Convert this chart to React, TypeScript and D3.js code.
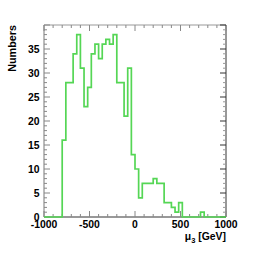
import React from 'react';
import * as d3 from 'd3';

// histogram of mu_3, 50 bins of 40 GeV from -1000 to 1000
const binEdges = d3.range(-1000, 1000, 40);
const counts = [0, 0, 0, 0, 0, 16, 28, 28, 34, 38, 31, 23, 27, 34, 36, 33, 36, 37, 36, 38, 28, 28, 21, 31, 13, 10, 4, 7, 7, 7, 8, 7, 7, 3, 3, 2, 1, 3, 0, 0, 0, 0, 0, 1, 0, 0, 0, 0, 0, 0];
const xMajor = [-1000, -500, 0, 500, 1000];
const xMinor = d3.range(-1000, 1001, 100);
const yMajor = [0, 5, 10, 15, 20, 25, 30, 35];
const yMinor = d3.range(0, 41, 1);

const W = 270;
const H = 259;
const left = 44, right = 226, top = 25, bottom = 217;

export default function App() {
  const x = d3.scaleLinear().domain([-1000, 1000]).range([left, right]);
  const y = d3.scaleLinear().domain([0, 40]).range([bottom, top]);

  const pts: [number, number][] = binEdges.map((e, i) => [e, counts[i]]);
  pts.push([1000, counts[counts.length - 1]]);
  const line = d3.line<[number, number]>()
    .x(d => x(d[0]))
    .y(d => y(d[1]))
    .curve(d3.curveStepAfter);

  const font = "'Liberation Sans', Arial, Helvetica, sans-serif";

  return (
    <svg width={W} height={H} style={{ position: 'absolute', left: 0, top: 0, background: '#fff' }}>
      {/* frame */}
      <line x1={left} x2={right} y1={top} y2={top} stroke="#999" strokeWidth={1} />
      <line x1={right} x2={right} y1={top} y2={bottom} stroke="#333" strokeWidth={1} />
      <line x1={left} x2={left} y1={top} y2={bottom} stroke="#777" strokeWidth={1} />
      <line x1={left} x2={right} y1={bottom} y2={bottom} stroke="#333" strokeWidth={1} />

      {/* x ticks */}
      {xMinor.map(v => {
        const major = xMajor.includes(v);
        const len = major ? 6 : 3;
        return (
          <g key={'x' + v}>
            <line x1={x(v)} x2={x(v)} y1={bottom} y2={bottom - len} stroke="#888" />
            <line x1={x(v)} x2={x(v)} y1={top} y2={top + len} stroke="#888" />
          </g>
        );
      })}
      {/* y ticks */}
      {yMinor.map(v => {
        const major = v % 5 === 0;
        const len = major ? 6 : 3;
        return (
          <g key={'y' + v}>
            <line x1={left} x2={left + len} y1={y(v)} y2={y(v)} stroke="#888" />
            <line x1={right} x2={right - len} y1={y(v)} y2={y(v)} stroke={major ? '#333' : '#999'} />
          </g>
        );
      })}

      {/* histogram */}
      <path d={line(pts) || ''} fill="none" stroke="#55d655" strokeWidth={1.7} />

      {/* labels */}
      {xMajor.map(v => (
        <text key={'xl' + v} x={x(v)} y={bottom + 10.5} textAnchor="middle"
          fontFamily={font} fontWeight="bold" fontSize={10.4} fill="#000">{v}</text>
      ))}
      {yMajor.map(v => (
        <text key={'yl' + v} x={39.5} y={y(v) + 3.7} textAnchor="end"
          fontFamily={font} fontWeight="bold" fontSize={10.4} fill="#000">{v}</text>
      ))}
      <text transform={`translate(15.5,${top}) rotate(-90)`} textAnchor="end"
        fontFamily={font} fontWeight="bold" fontSize={10.8} fill="#000">Numbers</text>
      <text x={right} y={240} textAnchor="end" fontFamily={font} fontWeight="bold" fontSize={10.4} fill="#000">
        μ<tspan dy={3} fontSize={7.5}>3</tspan><tspan dy={-3}> [GeV]</tspan>
      </text>
    </svg>
  );
}
